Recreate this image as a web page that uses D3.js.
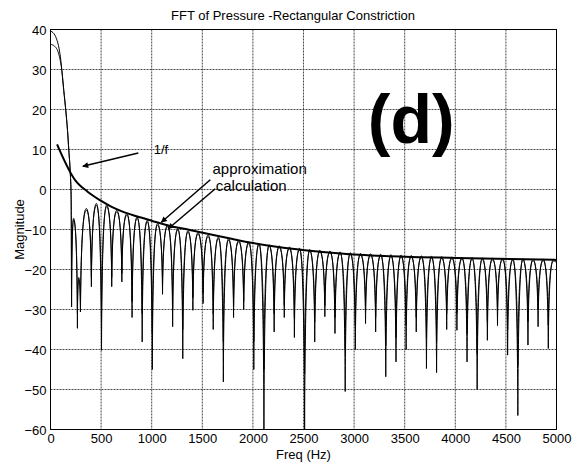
<!DOCTYPE html>
<html><head><meta charset="utf-8">
<script src="https://cdn.jsdelivr.net/npm/d3@7"></script>
<style>
body{margin:0;background:#fff}
svg{display:block}
text{font-family:"Liberation Sans",Arial,Helvetica,sans-serif;fill:#000}
</style>
</head><body>
<svg id="chart" width="577" height="465"></svg>
<script>
// ---------- data ----------
const title = "FFT of Pressure -Rectangular Constriction";
const xLabel = "Freq (Hz)";
const yLabel = "Magnitude";
const xTicks = [0,500,1000,1500,2000,2500,3000,3500,4000,4500,5000];
const yTicks = [40,30,20,10,0,-10,-20,-30,-40,-50,-60];

// main lobe (smooth part) of both curves
const calcMainHz   = [0, 26, 59, 85, 102, 112, 131, 151, 168, 181, 194, 204, 208];
const calcMainDb   = [39.6, 39.2, 37.7, 35.2, 32.3, 29.8, 24.8, 19.8, 14.8, 9.8, 4.8, -2, -29.3];
const approxMainHz = [0, 42, 75, 99, 112, 131, 151, 168, 181, 194, 204, 208];
const approxMainDb = [36.3, 35.8, 34.4, 31.9, 29.8, 24.8, 19.8, 14.8, 9.8, 4.8, -2, -29.3];

// side-lobe vertices (alternating dip / peak), Hz
const lobeHz = [208, 228, 266, 279, 296,
  354, 404, 454, 504, 555, 605, 655, 705, 755, 806, 856, 906, 956, 1006,
  1057, 1107, 1157, 1207, 1258, 1307, 1358, 1407, 1458, 1508, 1558, 1608,
  1659, 1708, 1759, 1809, 1859, 1909, 1960, 2009, 2060, 2109, 2160, 2210,
  2260, 2310, 2361, 2410, 2461, 2511, 2561, 2611, 2661, 2711, 2762, 2811,
  2862, 2912, 2962, 3012, 3063, 3113, 3163, 3213, 3263, 3313, 3364, 3414,
  3464, 3514, 3564, 3614, 3665, 3715, 3765, 3815, 3865, 3915, 3966, 4016,
  4066, 4116, 4166, 4216, 4267, 4317, 4367, 4417, 4467, 4517, 4568, 4618,
  4668, 4718, 4768, 4818, 4869, 4919, 4969, 5000];
const calcLobeDb = [-29.3, -7.2, -34.7, -22, -30.6,
  -4.75, -24.3, -3.5, -40.2, -3.9, -24.3, -5.2, -23.1, -6.0, -32, -6.85, -38.1, -7.7, -45,
  -8.5, -26.2, -8.9, -34.3, -9.75, -42.3, -10.3, -30.2, -10.8, -28.5, -11.4, -35,
  -11.9, -48.1, -12.3, -32, -12.7, -30, -13.1, -45, -13.4, -60, -13.8, -35.6,
  -14.1, -32, -14.4, -37, -14.7, -60, -15.0, -38.1, -15.2, -31.8, -15.4, -36,
  -15.6, -50.5, -15.8, -40, -16.0, -33.5, -16.1, -35.6, -16.2, -46.8, -16.3, -43.1,
  -16.4, -40, -16.5, -35.6, -16.6, -44.75, -16.7, -45.8, -16.8, -35, -16.9, -35.2,
  -17.0, -43.1, -17.0, -50, -17.1, -37.7, -17.2, -34, -17.2, -41.4, -17.3, -56.5,
  -17.3, -38.9, -17.4, -34.3, -17.4, -39.75, -17.5, -18];
const approxLobeDb = [-29.3, -7.6, -31, -22.5, -30.6,
  -5.2, -22, -4.0, -33, -4.3, -22, -5.6, -21, -6.4, -28, -7.2, -31, -8.1, -36,
  -8.9, -24, -9.3, -30, -10.1, -35, -10.7, -27, -11.2, -26, -11.8, -31,
  -12.3, -38, -12.7, -29, -13.1, -28, -13.5, -38, -13.8, -45, -14.2, -31,
  -14.5, -29, -14.8, -32, -15.1, -46, -15.4, -33, -15.6, -29, -15.8, -32,
  -16.0, -40, -16.2, -34, -16.4, -30, -16.5, -32, -16.6, -39, -16.7, -37,
  -16.8, -34, -16.9, -32, -17.0, -37, -17.1, -38, -17.2, -31, -17.3, -31,
  -17.4, -36, -17.4, -41, -17.5, -33, -17.6, -30, -17.6, -35, -17.7, -44,
  -17.7, -33, -17.8, -30, -17.8, -34, -17.9, -18.4];

// smooth 1/f envelope
const envHz = [65, 257, 300, 350, 400, 497, 600, 718, 850, 998, 1212, 1377, 1574, 1800, 2002, 2250, 2513, 2958, 3501, 4012, 4539, 5000];
const envDb = [11.3, 1.9, 0.8, -0.2, -1.2, -2.8, -4.3, -5.6, -6.7, -7.8, -9.3, -10.1, -11.2, -12.4, -13.4, -14.4, -15.2, -16.2, -16.8, -17.1, -17.4, -17.6];

// annotations (data coordinates)
const annotations = [
  {text: "1/f", hz: 1020, db: 8.9, from: [868, 9.1], to: [319, 5.8]},
  {text: "approximation", hz: 1601, db: 3.8, from: [1579, 2.45], to: [1095, -8.2]},
  {text: "calculation", hz: 1633, db: -0.4, from: [1628, 0.2], to: [1164, -9.8]}
];
const panelLabel = {text: "(d)", hz: 3135, db: 11.6};

// ---------- layout ----------
const W = 577, H = 465;
const plot = {left: 50.5, right: 556.5, top: 29.5, bottom: 429.5};
const svg = d3.select("#chart");
const x = d3.scaleLinear().domain([0, 5000]).range([plot.left, plot.right]);
const y = d3.scaleLinear().domain([-60, 40]).range([plot.bottom, plot.top]);

// grid
const grid = svg.append("g").attr("stroke", "#333").attr("stroke-width", 0.9).attr("stroke-dasharray", "2,1");
grid.selectAll("line.v").data(xTicks.slice(1, -1)).join("line")
  .attr("x1", d => x(d)).attr("x2", d => x(d)).attr("y1", plot.top).attr("y2", plot.bottom);
grid.selectAll("line.h").data(yTicks.slice(1, -1)).join("line")
  .attr("y1", d => y(d)).attr("y2", d => y(d)).attr("x1", plot.left).attr("x2", plot.right);

// axes labels via d3 axes
const xAxis = svg.append("g").attr("transform", `translate(0,${plot.bottom})`)
  .call(d3.axisBottom(x).tickValues(xTicks).tickSize(0).tickPadding(4).tickFormat(d3.format("d")));
xAxis.select(".domain").remove();
xAxis.selectAll("text").attr("font-size", 13).attr("font-family", "Liberation Sans, Arial, sans-serif");
const yAxis = svg.append("g").attr("transform", `translate(${plot.left},0)`)
  .call(d3.axisLeft(y).tickValues(yTicks).tickSize(0).tickPadding(4).tickFormat(d3.format("d")));
yAxis.select(".domain").remove();
yAxis.selectAll("text").attr("font-size", 13).attr("font-family", "Liberation Sans, Arial, sans-serif").attr("dy", "0.4em");

// clip
svg.append("clipPath").attr("id", "clip").append("rect")
  .attr("x", plot.left).attr("y", plot.top).attr("width", plot.right - plot.left).attr("height", plot.bottom - plot.top);

// custom lobe curve: flat arched tops, sharp narrow dips
function lobeCurve(context) {
  let pts = [];
  return {
    areaStart() {}, areaEnd() {},
    lineStart() { pts = []; },
    point(px, py) { pts.push([+px, +py]); },
    lineEnd() {
      if (!pts.length) return;
      context.moveTo(pts[0][0], pts[0][1]);
      for (let i = 1; i < pts.length; i++) {
        const [x0, y0] = pts[i - 1], [x1, y1] = pts[i];
        const dx = x1 - x0;
        if (y1 > y0) { // peak -> dip
          context.bezierCurveTo(x0 + 0.5 * dx, y0, x1 - 0.08 * dx, y0 + 0.3 * (y1 - y0), x1, y1);
        } else {       // dip -> peak
          context.bezierCurveTo(x0 + 0.08 * dx, y1 + 0.3 * (y0 - y1), x1 - 0.5 * dx, y1, x1, y1);
        }
      }
    }
  };
}

const curves = svg.append("g").attr("clip-path", "url(#clip)").attr("fill", "none").attr("stroke", "#000");
const smooth = d3.line().x(d => x(d[0])).y(d => y(d[1])).curve(d3.curveMonotoneX);
const lobes = d3.line().x(d => x(d[0])).y(d => y(d[1])).curve(lobeCurve);

const series = [
  {mainHz: approxMainHz, mainDb: approxMainDb, lobeDb: approxLobeDb, w: 0.9},
  {mainHz: calcMainHz, mainDb: calcMainDb, lobeDb: calcLobeDb, w: 1.0}
];
series.forEach(s => {
  curves.append("path").attr("stroke-width", s.w)
    .attr("d", smooth(s.mainHz.map((h, i) => [h, s.mainDb[i]])));
  curves.append("path").attr("stroke-width", s.w)
    .attr("d", lobes(lobeHz.map((h, i) => [h, s.lobeDb[i]])));
});
curves.append("path").attr("stroke-width", 2)
  .attr("d", smooth(envHz.map((h, i) => [h, envDb[i]])));

// frame
svg.append("rect").attr("x", plot.left).attr("y", plot.top)
  .attr("width", plot.right - plot.left).attr("height", plot.bottom - plot.top)
  .attr("fill", "none").attr("stroke", "#000").attr("stroke-width", 1);

// arrows
const defs = svg.append("defs");
defs.append("marker").attr("id", "arrow").attr("viewBox", "0 0 10 10").attr("refX", 9).attr("refY", 5)
  .attr("markerWidth", 9).attr("markerHeight", 6).attr("markerUnits", "userSpaceOnUse").attr("orient", "auto")
  .append("path").attr("d", "M0,0 L10,5 L0,10 Z").attr("fill", "#000");
annotations.forEach(a => {
  svg.append("line")
    .attr("x1", x(a.from[0])).attr("y1", y(a.from[1]))
    .attr("x2", x(a.to[0])).attr("y2", y(a.to[1]))
    .attr("stroke", "#000").attr("stroke-width", 1.5).attr("marker-end", "url(#arrow)");
  svg.append("text").attr("x", x(a.hz)).attr("y", y(a.db))
    .attr("font-size", a.text === "1/f" ? 13 : 15).text(a.text);
});
svg.append("text").attr("x", x(panelLabel.hz)).attr("y", y(panelLabel.db))
  .attr("font-size", 68).attr("font-weight", "bold").text(panelLabel.text);

// titles
svg.append("text").attr("x", 293).attr("y", 20).attr("text-anchor", "middle").attr("font-size", 13).text(title);
svg.append("text").attr("x", (plot.left + plot.right) / 2).attr("y", 459).attr("text-anchor", "middle").attr("font-size", 13).text(xLabel);
svg.append("text").attr("transform", `translate(24,${(plot.top + plot.bottom) / 2}) rotate(-90)`)
  .attr("text-anchor", "middle").attr("font-size", 13).text(yLabel);
</script>
</body></html>
